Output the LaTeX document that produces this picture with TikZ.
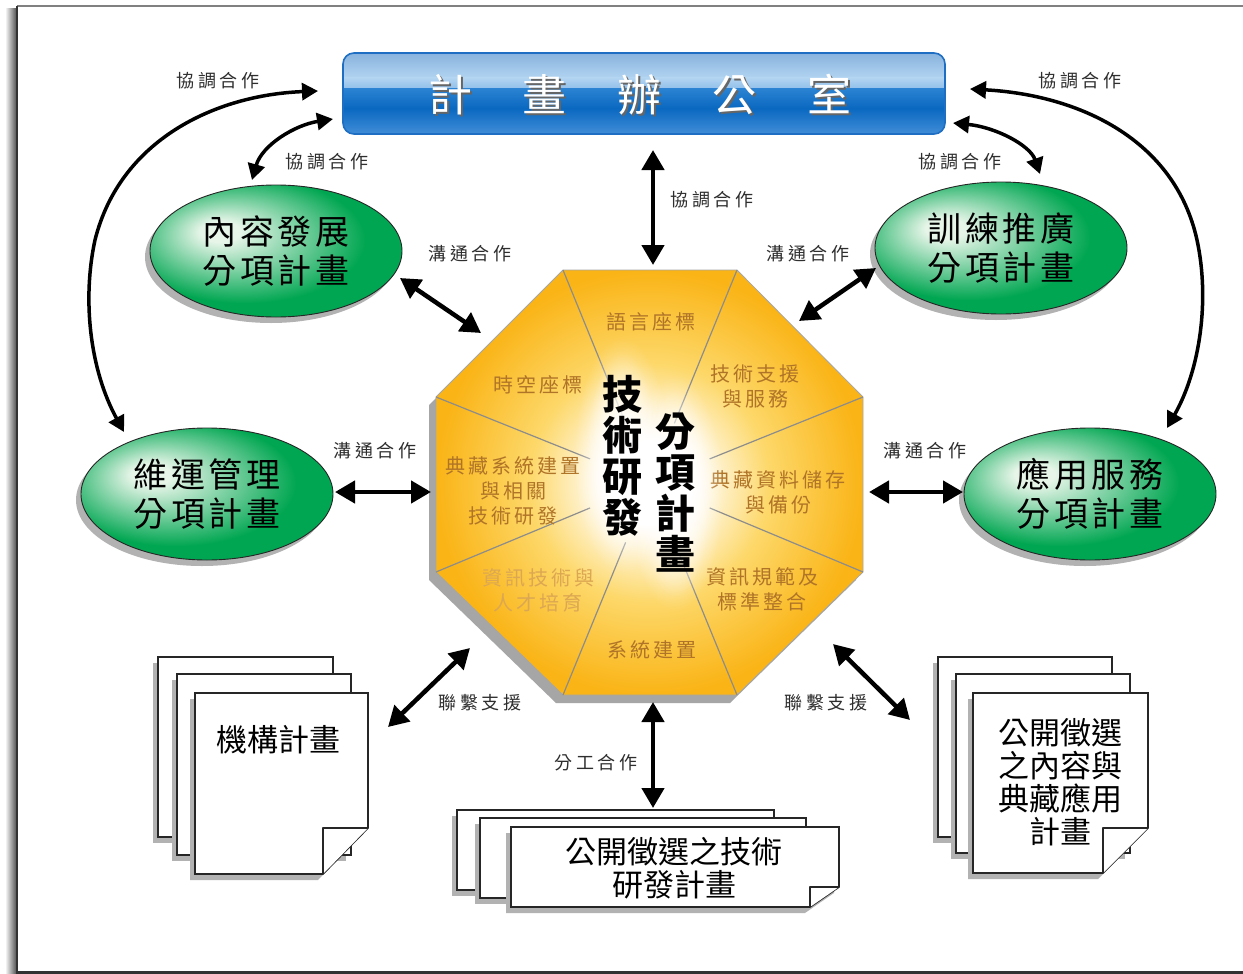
\documentclass[tikz,border=0pt]{standalone}
\usepackage{fontspec}
\newfontfamily\cjk{Noto Sans CJK TC}
\newfontfamily\cjksp[LetterSpace=20]{Noto Sans CJK TC}
\newfontfamily\cjkseg[LetterSpace=15]{Noto Sans CJK TC}
\newfontfamily\cjkell[LetterSpace=10]{Noto Sans CJK TC}
\usetikzlibrary{arrows.meta,calc,shapes.geometric,shadows,fadings}
\definecolor{gm}{HTML}{00A651}
\definecolor{gl}{HTML}{E6F5E8}
\definecolor{gold}{HTML}{FAB416}
\definecolor{goldmid}{HTML}{FDD86A}
\definecolor{lbl}{HTML}{2E2E2E}
\definecolor{seg}{HTML}{B07428}
\definecolor{segfade}{HTML}{DCA752}
\definecolor{bA}{HTML}{88B3DE}
\definecolor{bB}{HTML}{B2D4F1}
\definecolor{bC}{HTML}{8EBDE9}
\definecolor{bD}{HTML}{2A82D2}
\definecolor{bE}{HTML}{0A68C0}
\definecolor{bF}{HTML}{408DD8}
\definecolor{blueedge}{HTML}{1E6EC3}
\pgfdeclareradialshading{greenball}{\pgfpoint{-12bp}{8bp}}{color(0bp)=(gl); color(4bp)=(gl); color(24bp)=(gm); color(50bp)=(gm)}
\pgfdeclareradialshading{goldglow}{\pgfpoint{0bp}{0bp}}{color(0bp)=(white); color(5bp)=(white); color(14bp)=(goldmid); color(25bp)=(gold); color(50bp)=(gold)}
\tikzfading[name=glowfade, inner color=transparent!0, outer color=transparent!100]
\newcommand\docback[4]{%
  \fill[black!30] ({#1-5},{#2+6}) rectangle ({#3-5},{#4+6});
  \draw[sheet] (#1,#2) rectangle (#3,#4);}
\newcommand\docfront[6]{%
  \fill[black!30] ({#1-5},{#2+6}) -- ({#3-5},{#2+6}) -- ({#3-5},{#6+6}) -- ({#5-5},{#4+6}) -- ({#1-5},{#4+6}) -- cycle;
  \draw[sheet] (#1,#2) -- (#3,#2) -- (#3,#6) -- (#5,#4) -- (#1,#4) -- cycle;
  \draw[sheet, line join=round] (#3,#6) -- (#5,#6) -- (#5,#4);}
\begin{document}
\begin{tikzpicture}[x=1pt,y=-1pt,
  lab/.style={font=\cjksp\fontsize{18}{20}\selectfont, text=lbl, inner sep=0},
  seglab/.style={font=\cjkseg\fontsize{20}{25}\selectfont, text=seg, align=center, inner sep=0},
  ell/.style={ellipse, minimum width=252pt, minimum height=132pt, inner sep=0, draw=black!85, line width=0.9pt, shade, shading=greenball, font=\cjkell\fontsize{34}{39}\selectfont, align=center, drop shadow={shadow xshift=-5pt, shadow yshift=-6pt, fill=black!30, opacity=1}},
  dbl/.style={line width=4.5pt, {Triangle[length=20pt,width=22pt]}-{Triangle[length=20pt,width=22pt]}},
  curvarrow/.style={line width=3.5pt, {Triangle[length=16pt,width=17pt]}-{Triangle[length=16pt,width=17pt]}},
  sheet/.style={draw=black!85, line width=1.6pt, fill=white},
  doctext/.style={font=\cjk\fontsize{31}{33}\selectfont, align=center, inner sep=0},
  ctext/.style={font=\cjk\bfseries\fontsize{40}{41}\selectfont, align=center, inner sep=0},
  bantext/.style={font=\cjk\fontsize{44}{44}\selectfont, inner sep=0},
  glow/.style={fill=white, path fading=glowfade}
]
\useasboundingbox (0,0) rectangle (1243,974);
\fill[white] (0,0) rectangle (1243,974);
% frame
\shade[left color=white, right color=black!65] (5,9) rectangle (16,974);
\draw[black!50, line width=2pt] (17,6) -- (1243,6);
\draw[black!80, line width=2.5pt] (17,6) -- (17,972.5) -- (1243,972.5);

% banner
\begin{scope}
  \clip[rounded corners=11pt] (343,53) rectangle (945,134);
  \shade[top color=bA, bottom color=bB] (343,53) rectangle (945,78.5);
  \shade[top color=bB, bottom color=bC] (343,78) rectangle (945,89.5);
  \shade[top color=bD, bottom color=bE] (343,89) rectangle (945,108.5);
  \shade[top color=bE, bottom color=bF] (343,108) rectangle (945,134);
\end{scope}
\draw[blueedge, line width=1.6pt, rounded corners=11pt] (343,53) rectangle (945,134);
\node[minimum width=602pt, minimum height=81pt, inner sep=0] (office) at (644,93.5) {};
\node[bantext, text=black!60] (officeshadow) at (642,97) {計\hspace{51pt}畫\hspace{51pt}辦\hspace{51pt}公\hspace{51pt}室};
\node[bantext, text=white] (officetext) at (640,95) {計\hspace{51pt}畫\hspace{51pt}辦\hspace{51pt}公\hspace{51pt}室};

% ellipses
\node[ell] (content) at (276,251) {內容發展\\分項計畫};
\node[ell] (maint) at (207,494) {維運管理\\分項計畫};
\node[ell] (train) at (1001,248) {訓練推廣\\分項計畫};
\node[ell] (app) at (1090,494) {應用服務\\分項計畫};

% octagon
\coordinate (O) at (650,483);
\coordinate (v1) at (563,270);
\coordinate (v2) at (737,270);
\coordinate (v3) at (863,397);
\coordinate (v4) at (863,572);
\coordinate (v5) at (737,695);
\coordinate (v6) at (563,695);
\coordinate (v7) at (436,572);
\coordinate (v8) at (436,397);
\fill[black!35] ([shift={(-7,8)}]v1) -- ([shift={(-7,8)}]v2) -- ([shift={(-7,8)}]v3) -- ([shift={(-7,8)}]v4) -- ([shift={(-7,8)}]v5) -- ([shift={(-7,8)}]v6) -- ([shift={(-7,8)}]v7) -- ([shift={(-7,8)}]v8) -- cycle;
\shade[shading=goldglow] (v1) -- (v2) -- (v3) -- (v4) -- (v5) -- (v6) -- (v7) -- (v8) -- cycle;
\draw[black!35, line width=0.8pt] (v1) -- (v2) -- (v3) -- (v4) -- (v5) -- (v6) -- (v7) -- (v8) -- cycle;
\foreach \v in {v1,v2,v3,v4,v5,v6,v7,v8}
  \draw[black!45, line width=1.2pt] (\v) -- ($(\v)!0.72!(O)$);

\node[seglab] (s1) at (651,322) {語言座標};
\node[seglab] (s2) at (755,386) {技術支援\\與服務};
\node[seglab] (s3) at (538,385) {時空座標};
\node[seglab] (s4) at (513,491) {典藏系統建置\\與相關\\技術研發};
\node[seglab] (s5) at (778,492) {典藏資料儲存\\與備份};
\node[seglab, text=segfade] (s6) at (538,590) {資訊技術與\\人才培育};
\node[seglab] (s7) at (762,589) {資訊規範及\\標準整合};
\node[seglab] (s8) at (652,650) {系統建置};

% white glow behind the central title
\fill[glow] (622,456) ellipse [x radius=48, y radius=118];
\fill[glow] (622,456) ellipse [x radius=36, y radius=104];
\fill[glow] (675,493) ellipse [x radius=48, y radius=118];
\fill[glow] (675,493) ellipse [x radius=36, y radius=104];
\node[ctext] (tech) at (622,456) {技\\術\\研\\發};
\node[ctext] (subp) at (675,493) {分\\項\\計\\畫};

% documents
\docback{158}{657}{333}{837}
\docback{177}{674}{351}{855}
\docfront{195}{693}{368}{874}{323}{828}
\node[doctext] (inst) at (278,740) {機構計畫};

\docback{457}{810}{774}{890}
\docback{480}{818}{806}{898}
\docfront{511}{827}{839}{907}{810}{887}
\node[doctext] (techdoc) at (674,868) {公開徵選之技術\\研發計畫};

\docback{938}{657}{1112}{837}
\docback{956}{674}{1130}{853}
\docfront{973}{693}{1148}{873}{1103}{828}
\node[doctext] (contdoc) at (1060,782) {公開徵選\\之內容與\\典藏應用\\計畫};

% arrow end points
\coordinate (a1s) at (653,150); \coordinate (a1e) at (653,265);
\coordinate (a2s) at (400,278); \coordinate (a2e) at (481,333);
\coordinate (a3s) at (876,268); \coordinate (a3e) at (799,321);
\coordinate (a4s) at (335,492); \coordinate (a4e) at (431,492);
\coordinate (a5s) at (869,492); \coordinate (a5e) at (963,492);
\coordinate (a6s) at (388,727); \coordinate (a6e) at (470,648);
\coordinate (a7s) at (833,644); \coordinate (a7e) at (910,720);
\coordinate (a8s) at (653,702); \coordinate (a8e) at (653,808);
\coordinate (c1s) at (124,432); \coordinate (c1e) at (318,91);
\coordinate (c2s) at (252,180); \coordinate (c2e) at (333,119);
\coordinate (c3s) at (1167,428); \coordinate (c3e) at (970,89);
\coordinate (c4s) at (1040,174); \coordinate (c4e) at (953,123);

\draw[dbl] (a1s) -- (a1e);
\draw[dbl] (a2s) -- (a2e);
\draw[dbl] (a3s) -- (a3e);
\draw[dbl] (a4s) -- (a4e);
\draw[dbl] (a5s) -- (a5e);
\draw[dbl] (a6s) -- (a6e);
\draw[dbl] (a7s) -- (a7e);
\draw[dbl] (a8s) -- (a8e);
\draw[curvarrow] (c1s) .. controls (90,370) and (82,300) .. (95,240) .. controls (120,140) and (215,95) .. (c1e);
\draw[curvarrow] (c2s) .. controls (262,145) and (295,125) .. (c2e);
\draw[curvarrow] (c3s) .. controls (1200,370) and (1210,300) .. (1197,240) .. controls (1175,140) and (1080,95) .. (c3e);
\draw[curvarrow] (c4s) .. controls (1030,145) and (995,127) .. (c4e);

% connector labels
\node[lab] (l1) at (218,81) {協調合作};
\node[lab] (l2) at (327,162) {協調合作};
\node[lab] (l3) at (712,200) {協調合作};
\node[lab] (l4) at (1080,81) {協調合作};
\node[lab] (l5) at (960,162) {協調合作};
\node[lab] (l6) at (470,254) {溝通合作};
\node[lab] (l7) at (808,254) {溝通合作};
\node[lab] (l8) at (375,451) {溝通合作};
\node[lab] (l9) at (925,451) {溝通合作};
\node[lab] (l10) at (480,703) {聯繫支援};
\node[lab] (l11) at (826,703) {聯繫支援};
\node[lab] (l12) at (596,763) {分工合作};
\end{tikzpicture}
\end{document}
